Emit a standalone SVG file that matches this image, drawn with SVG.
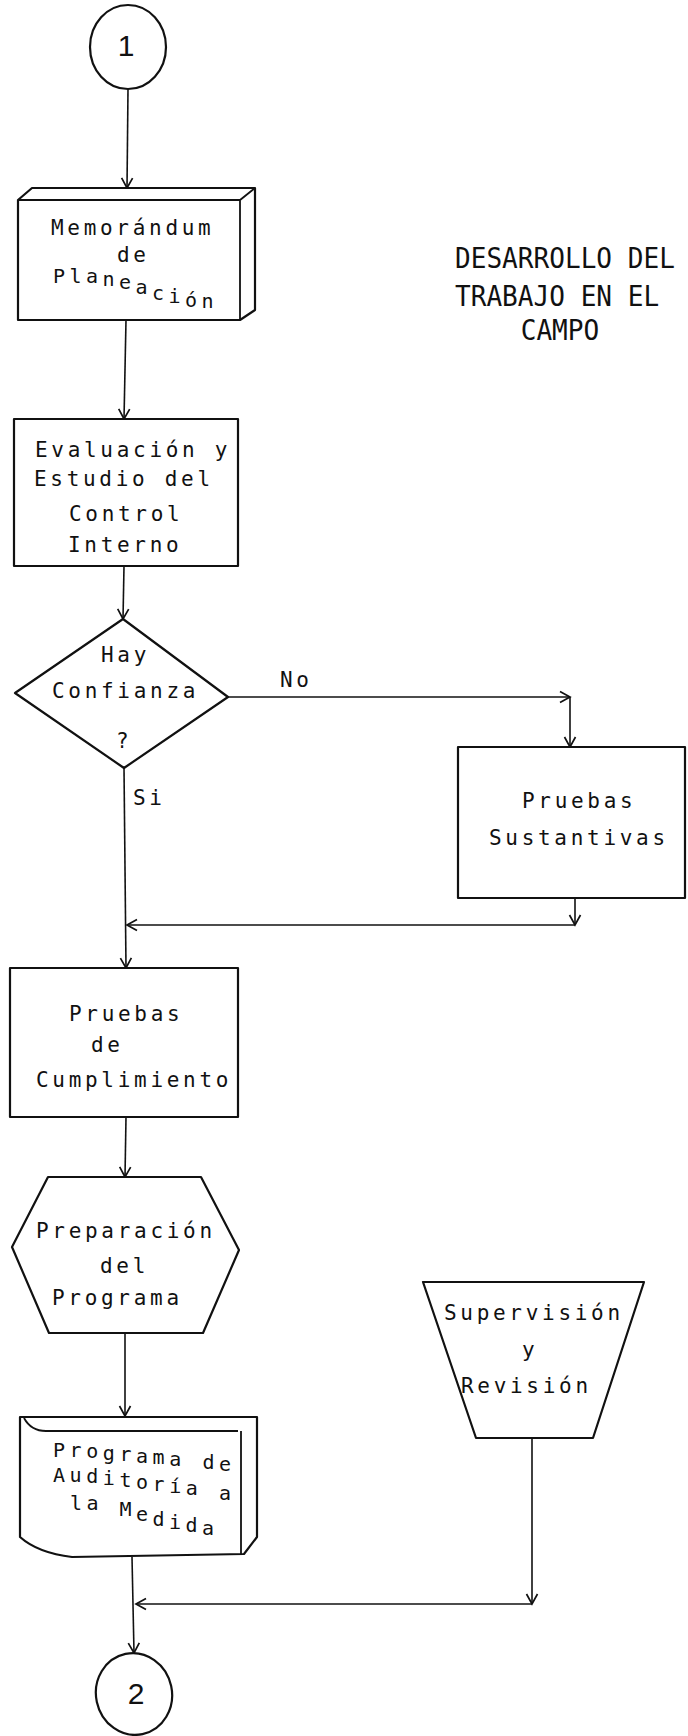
<svg xmlns="http://www.w3.org/2000/svg" width="688" height="1736" viewBox="0 0 688 1736">
  <style>
    .shape { fill: #fff; stroke: #111; stroke-width: 2.2; stroke-linejoin: round; }
    .edge { fill: none; stroke: #111; stroke-width: 1.6; }
    .line { fill: none; stroke: #111; stroke-width: 1.8; }
    .t { font-family: "DejaVu Sans Mono", "Liberation Mono", monospace; font-size: 21px; fill: #111; letter-spacing: 3.7px; }
    .tp { font-family: "DejaVu Sans Mono", "Liberation Mono", monospace; font-size: 20px; fill: #111; }
    .title { font-family: "DejaVu Sans Mono", "Liberation Mono", monospace; font-size: 29px; fill: #111; }
    .num { font-family: "Liberation Sans", Arial, sans-serif; font-size: 30px; fill: #111; text-anchor: middle; }
  </style>
  <defs>
    <marker id="arrow" markerUnits="userSpaceOnUse" markerWidth="14" markerHeight="14" viewBox="0 0 14 14" refX="12" refY="7" orient="auto">
      <path d="M2,1.5 L12,7 L2,12.5" fill="none" stroke="#111" stroke-width="1.7"/>
    </marker>
  </defs>

  <!-- heading, narrowed typewriter capitals -->
  <g id="title" transform="translate(455,0) scale(0.9,1)">
    <text class="title" x="0" y="268">DESARROLLO DEL</text>
    <text class="title" x="0" y="306">TRABAJO EN EL</text>
    <text class="title" x="73" y="340">CAMPO</text>
  </g>

  <!-- connectors -->
  <g id="connectors">
    <line class="edge" x1="128" y1="89" x2="127" y2="188" marker-end="url(#arrow)"/>
    <line class="edge" x1="126" y1="320" x2="124" y2="419" marker-end="url(#arrow)"/>
    <line class="edge" x1="124" y1="566" x2="123" y2="619" marker-end="url(#arrow)"/>
    <line class="edge" x1="228" y1="697" x2="570" y2="697" marker-end="url(#arrow)"/>
    <line class="edge" x1="570" y1="697" x2="570" y2="747" marker-end="url(#arrow)"/>
    <line class="edge" x1="575" y1="898" x2="575" y2="925" marker-end="url(#arrow)"/>
    <line class="edge" x1="575" y1="925" x2="127" y2="925" marker-end="url(#arrow)"/>
    <line class="edge" x1="124" y1="768" x2="126" y2="968" marker-end="url(#arrow)"/>
    <line class="edge" x1="126" y1="1117" x2="125" y2="1177" marker-end="url(#arrow)"/>
    <line class="edge" x1="125" y1="1333" x2="125" y2="1416" marker-end="url(#arrow)"/>
    <line class="edge" x1="132" y1="1557" x2="134" y2="1653" marker-end="url(#arrow)"/>
    <line class="edge" x1="532" y1="1438" x2="532" y2="1604" marker-end="url(#arrow)"/>
    <line class="edge" x1="532" y1="1604" x2="136" y2="1604" marker-end="url(#arrow)"/>
    <text class="t" x="280" y="687">No</text>
    <text class="t" x="133" y="805">Si</text>
  </g>

  <!-- start connector -->
  <g id="start">
    <ellipse class="shape" cx="128" cy="47" rx="38" ry="42" stroke-width="2.8"/>
    <text class="num" x="126" y="56">1</text>
  </g>

  <!-- memo: box with depth -->
  <g id="memorandum">
    <path class="shape" d="M18,200 L32,188 L255,188 L255,310 L240,320 L18,320 Z"/>
    <path class="line" d="M18,200 L240,200 L255,188 M240,200 L240,320"/>
    <text class="t" x="51" y="235" letter-spacing="4.2">Memorándum</text>
    <text class="t" x="117" y="262">de</text>
    <text class="tp" x="53 69.5 86 102.5 119 135.5 152 168.5 185 201.5" y="283 283 283 286 289 294 300 303 307 308" font-size="21">Planeación</text>
  </g>

  <g id="evaluacion">
    <rect class="shape" x="14" y="419" width="224" height="147"/>
    <text class="t" x="35" y="457">Evaluación y</text>
    <text class="t" x="34" y="486">Estudio del</text>
    <text class="t" x="69" y="521">Control</text>
    <text class="t" x="68" y="552">Interno</text>
  </g>

  <g id="confianza">
    <polygon class="shape" points="123,619 228,697 124,768 15,693"/>
    <text class="t" x="101" y="662">Hay</text>
    <text class="t" x="52" y="698">Confianza</text>
    <text class="t" x="116" y="748">?</text>
  </g>

  <g id="sustantivas">
    <rect class="shape" x="458" y="747" width="227" height="151"/>
    <text class="t" x="522" y="808">Pruebas</text>
    <text class="t" x="489" y="845">Sustantivas</text>
  </g>

  <g id="cumplimiento">
    <rect class="shape" x="10" y="968" width="228" height="149"/>
    <text class="t" x="69" y="1021">Pruebas</text>
    <text class="t" x="91" y="1052">de</text>
    <text class="t" x="36" y="1087">Cumplimiento</text>
  </g>

  <g id="preparacion">
    <polygon class="shape" points="48,1177 201,1177 239,1250 203,1333 49,1333 12,1247"/>
    <text class="t" x="36" y="1238">Preparación</text>
    <text class="t" x="100" y="1273">del</text>
    <text class="t" x="52" y="1305">Programa</text>
  </g>

  <!-- document with depth and wavy lower edge -->
  <g id="programa">
    <path class="shape" d="M20,1417 L257,1417 L257,1537 L244,1554 L72,1557 Q38,1553 20,1537 Z"/>
    <path class="line" d="M24,1418 Q31,1431 46,1431 L238,1431 M241,1431 L241,1554"/>
    <text class="tp" x="53 69.6 86.2 102.8 119.4 136 152.6 169.2 185.8 202.4 219" y="1457 1457 1458 1460 1461 1463 1464 1466 1467 1469 1471">Programa de</text>
    <text class="tp" x="53 69.6 86.2 102.8 119.4 136 152.6 169.2 185.8 202.4 219" y="1482 1482 1483 1485 1487 1489 1491 1493 1495 1497 1500">Auditoría a</text>
    <text class="tp" x="70 86.5 103 119.5 136 152.5 169 185.5 202" y="1510 1510 1512 1516 1521 1526 1529 1532 1535">la Medida</text>
  </g>

  <g id="supervision">
    <polygon class="shape" points="423,1282 644,1282 593,1438 476,1438"/>
    <text class="t" x="444" y="1320">Supervisión</text>
    <text class="t" x="522" y="1357">y</text>
    <text class="t" x="461" y="1393">Revisión</text>
  </g>

  <!-- end connector -->
  <g id="end">
    <ellipse class="shape" cx="134" cy="1694" rx="38" ry="41" stroke-width="2.8" transform="rotate(-12 134 1694)"/>
    <text class="num" x="136" y="1704" font-size="28">2</text>
  </g>
</svg>
